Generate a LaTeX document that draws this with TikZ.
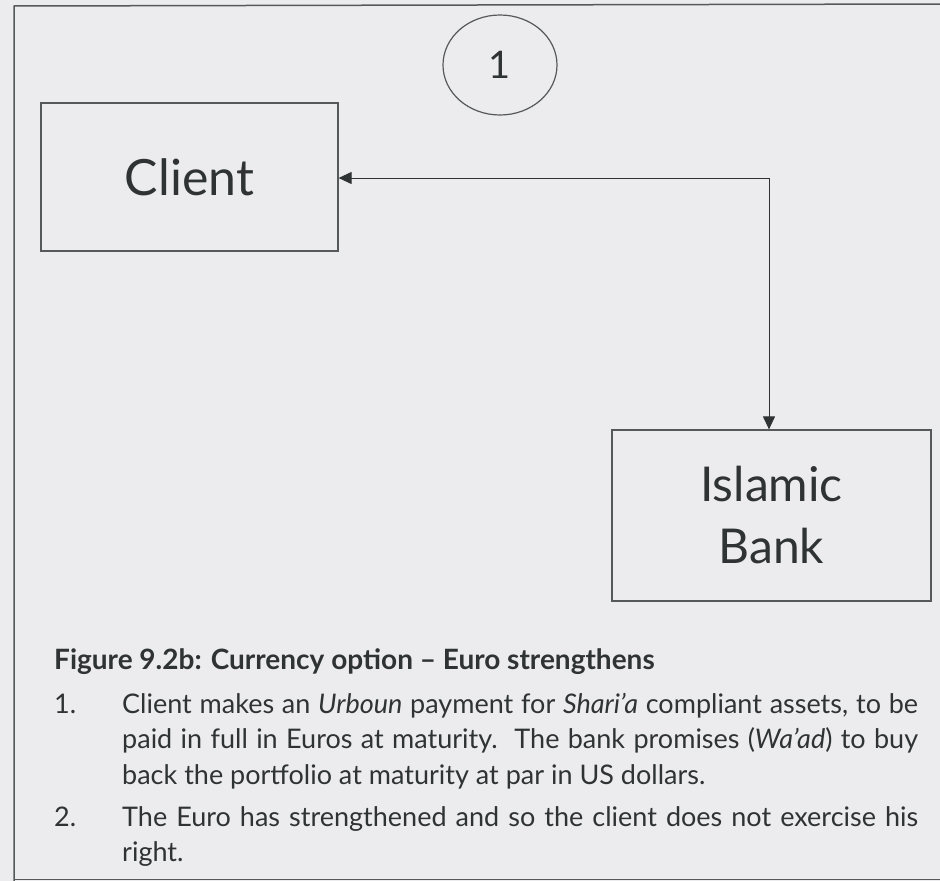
\documentclass[tikz,border=0pt]{standalone}
\usepackage{fontspec}
\setmainfont{Lato}
\usetikzlibrary{arrows.meta,shapes.geometric}
\definecolor{paper}{HTML}{ECECEF}
\definecolor{ink}{HTML}{2F3333}
\definecolor{rule}{HTML}{56595B}
\begin{document}
\begin{tikzpicture}[x=1pt,y=-1pt,
  box/.style={draw=rule, line width=1.2pt, inner sep=0pt, text=ink},
  flow/.style={draw=ink, line width=1pt, {Triangle[length=13pt,width=12pt]}-{Triangle[length=13pt,width=12pt]}},
  body/.style={text=ink, font=\fontsize{27}{35.5}\selectfont, inner sep=0pt},
]
\useasboundingbox[fill=paper] (0,0) rectangle (940,881);
% outer frame of the figure
\draw[rule, line width=1.5pt] (14,881) -- (14,6) -- (940,4);
\draw[rule, line width=1pt] (14,879) -- (940,879);

% step marker
\node[box, ellipse, minimum width=114pt, minimum height=100pt,
      font=\fontsize{38}{44}\selectfont] (step1) at (500,65) {1};

% parties
\node[box, minimum width=297pt, minimum height=148pt,
      font=\fontsize{50}{60}\selectfont] (client) at (189.5,177) {Client};
\node[box, minimum width=319pt, minimum height=171pt, align=center,
      font=\fontsize{48}{62}\selectfont] (bank) at (771.5,515.5) {Islamic\\Bank};

% option flow between client and bank
\coordinate (turn) at (769,178);
\draw[flow] (client.east |- turn) -- (turn) -- (bank.north -| turn);

% caption and notes
\node[body, anchor=base west, font=\bfseries\fontsize{28}{35.5}\selectfont] (caption) at (54,669)
  {Figure 9.2b: Currency option – Euro strengthens};
\node[body, anchor=base west] (num1) at (54,713) {1.};
\node[body, anchor=base west, text width=796pt, align=justify] (note1) at (122,713)
  {Client makes an \textit{Urboun} payment for \textit{Shari’a} compliant assets, to be\linebreak
   paid in full in Euros at maturity.\ \ The bank promises (\textit{Wa’ad}) to buy\linebreak
   back the portfolio at maturity at par in US dollars.};
\node[body, anchor=base west] (num2) at (54,826) {2.};
\node[body, anchor=base west, text width=796pt, align=justify] (note2) at (122,826)
  {The Euro has strengthened and so the client does not exercise his\linebreak right.};
\end{tikzpicture}
\end{document}
